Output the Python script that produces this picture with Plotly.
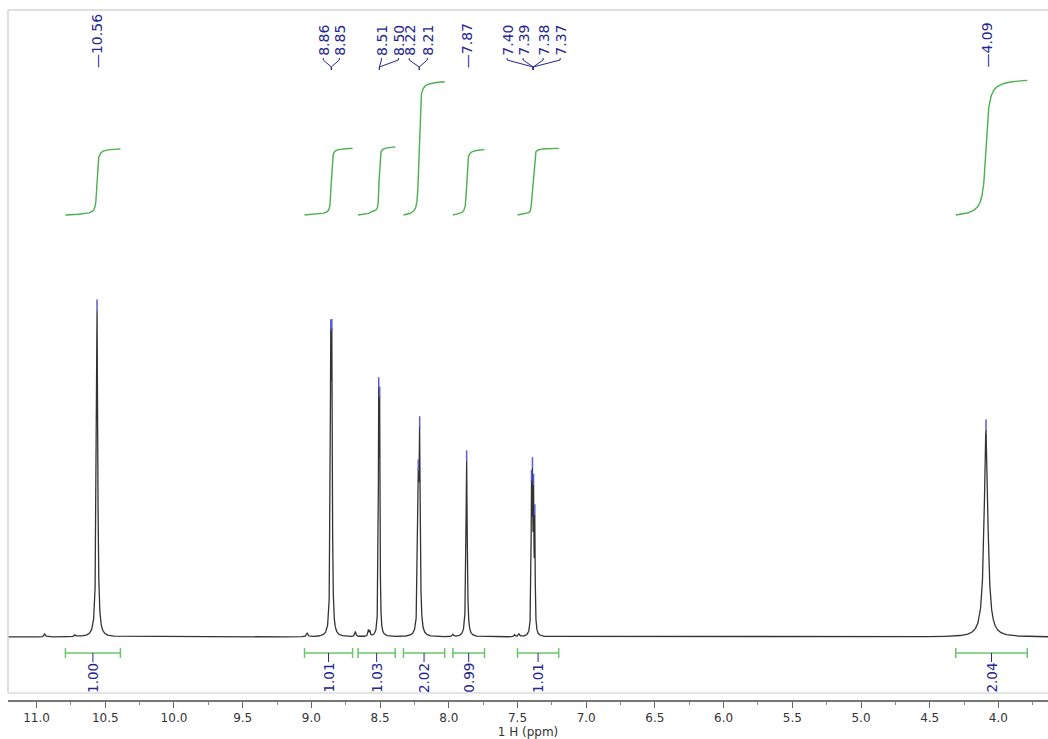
import numpy as np
import plotly.graph_objects as go

# ---------------- data ----------------
# individual resonance lines (ppm), intensities (a.u.), half widths (ppm)
line_ppm = [10.560, 8.859, 8.851, 8.510, 8.503, 8.222, 8.212, 7.870,
            7.398, 7.391, 7.383, 7.374, 4.090]
line_height = [327, 256, 256, 217, 206, 130, 184, 176,
               130, 131, 121, 104, 207]
line_hwhm = [0.006, 0.004, 0.004, 0.003, 0.003, 0.005, 0.005, 0.005,
             0.003, 0.003, 0.003, 0.003, 0.016]

# small impurity / satellite bumps
minor_ppm = [10.94, 10.72, 9.03, 8.68, 8.585, 8.575, 7.97, 7.52, 7.49]
minor_height = [3, 2, 4, 5, 6, 5, 2, 2, 3]
minor_hwhm = [0.006, 0.006, 0.006, 0.005, 0.004, 0.004, 0.005, 0.005, 0.005]

# integration regions (ppm) and integral values
integ_from = [10.79, 9.05, 8.66, 8.33, 7.97, 7.50, 4.31]
integ_to = [10.39, 8.70, 8.39, 8.03, 7.74, 7.20, 3.79]
integ_value = [1.00, 1.01, 1.03, 2.02, 0.99, 1.01, 2.04]

# peak pick label groups
label_groups = [["10.56"], ["8.86", "8.85"], ["8.51", "8.50"], ["8.22", "8.21"],
                ["7.87"], ["7.40", "7.39", "7.38", "7.37"], ["4.09"]]
label_centers = [10.56, 8.855, 8.505, 8.215, 7.87, 7.386, 4.09]

x_tick_values = [11.0, 10.5, 10.0, 9.5, 9.0, 8.5, 8.0, 7.5, 7.0, 6.5, 6.0, 5.5, 5.0, 4.5, 4.0]
x_title = "1 H (ppm)"

# ---------------- layout constants ----------------
X_LEFT, X_RIGHT = 11.208, 3.639
PX_PER_PPM = 1040 / (X_LEFT - X_RIGHT)
Y_MIN, Y_MAX = -63, 627
label_offsets_px = [[0], [-8, 8], [2, 19], [-10, 8], [0], [-26, -10, 10, 27], [0]]

NAVY = "#25258f"
GREEN = "#4caf50"
FONT = "DejaVu Sans"

# ---------------- spectrum ----------------
x = np.linspace(X_RIGHT, X_LEFT, 24000)


def lor(xx, x0, h, g):
    return h * g * g / ((xx - x0) ** 2 + g * g)


def spectrum(xx):
    y = np.zeros_like(xx, dtype=float)
    for p, h, g in zip(line_ppm + minor_ppm, line_height + minor_height, line_hwhm + minor_hwhm):
        y += lor(xx, p, h, g)
    return y


y = spectrum(x)

fig = go.Figure()

# spectrum trace
fig.add_trace(go.Scatter(x=x, y=y, mode="lines", line=dict(color="#333333", width=1.3),
                         hoverinfo="skip"))

# peak top ticks (blue)
tops = spectrum(np.array(line_ppm))
fig.add_trace(go.Scatter(x=line_ppm, y=tops + 5, mode="markers",
                         marker=dict(symbol="line-ns", size=8,
                                     line=dict(color="#5a5ad6", width=1.5)),
                         hoverinfo="skip"))

# integral curves
UNIT = 66
Y_START = 422
for lo, hi, val in zip(integ_from, integ_to, integ_value):
    xs = np.linspace(lo, hi, 600)  # from high ppm to low ppm
    ys = spectrum(xs)
    cum = np.cumsum(ys)
    cum = (cum - cum[0]) / (cum[-1] - cum[0])
    fig.add_trace(go.Scatter(x=xs, y=Y_START + cum * val * UNIT, mode="lines",
                             line=dict(color=GREEN, width=1.4), hoverinfo="skip"))

# integration bars
BAR_Y = -16
bx, by, cx, cy = [], [], [], []
for lo, hi in zip(integ_from, integ_to):
    bx += [lo, hi, None]
    by += [BAR_Y, BAR_Y, None]
    c = (lo + hi) / 2
    cx += [c, c, None]
    cy += [BAR_Y, BAR_Y - 9, None]
fig.add_trace(go.Scatter(x=bx, y=by, mode="lines", line=dict(color="#6cc46c", width=1.5),
                         hoverinfo="skip"))
fig.add_trace(go.Scatter(x=integ_from + integ_to, y=[BAR_Y] * (2 * len(integ_from)),
                         mode="markers",
                         marker=dict(symbol="line-ns", size=7, line=dict(color="#6cc46c", width=1.5)),
                         hoverinfo="skip"))
fig.add_trace(go.Scatter(x=cx, y=cy, mode="lines", line=dict(color=NAVY, width=1),
                         hoverinfo="skip"))

annotations = []
for lo, hi, val in zip(integ_from, integ_to, integ_value):
    annotations.append(dict(x=(lo + hi) / 2, y=BAR_Y - 8, xref="x", yref="y",
                            text=f"{val:.2f}", textangle=-90, showarrow=False,
                            xanchor="center", yanchor="top",
                            font=dict(family=FONT, size=13.5, color=NAVY)))

# peak labels
LAB_BOTTOM_SINGLE = 567
LAB_BOTTOM_MULTI = 579
lx, ly = [], []
for labels, center, offs in zip(label_groups, label_centers, label_offsets_px):
    if len(labels) == 1:
        annotations.append(dict(x=center, y=LAB_BOTTOM_SINGLE, xref="x", yref="y",
                                text="\u2014" + labels[0], textangle=-90, showarrow=False,
                                xanchor="center", yanchor="bottom",
                                font=dict(family=FONT, size=14, color=NAVY)))
    else:
        for lab, o in zip(labels, offs):
            xp = center - o / PX_PER_PPM
            annotations.append(dict(x=xp, y=LAB_BOTTOM_MULTI, xref="x", yref="y",
                                    text=lab, textangle=-90, showarrow=False,
                                    xanchor="center", yanchor="bottom",
                                    font=dict(family=FONT, size=14, color=NAVY)))
            lx += [xp, xp, center, center, None]
            ly += [LAB_BOTTOM_MULTI, LAB_BOTTOM_MULTI - 2, LAB_BOTTOM_MULTI - 9,
                   LAB_BOTTOM_MULTI - 12, None]
fig.add_trace(go.Scatter(x=lx, y=ly, mode="lines", line=dict(color=NAVY, width=1),
                         hoverinfo="skip"))

# frame
shapes = [
    dict(type="line", xref="paper", yref="paper", x0=0, x1=0, y0=7 / 690, y1=1,
         line=dict(color="#d4d4d4", width=1.5)),
    dict(type="line", xref="paper", yref="paper", x0=0, x1=1, y0=1, y1=1,
         line=dict(color="#d4d4d4", width=1.5)),
    dict(type="line", xref="paper", yref="paper", x0=0, x1=1, y0=7 / 690, y1=7 / 690,
         line=dict(color="#dcdcdc", width=1.5)),
]

fig.update_layout(
    width=1048, height=739,
    margin=dict(l=8, r=0, t=10, b=39),
    paper_bgcolor="white", plot_bgcolor="white",
    showlegend=False,
    annotations=annotations,
    shapes=shapes,
    xaxis=dict(range=[X_LEFT, X_RIGHT], tickmode="array", tickvals=x_tick_values,
               ticktext=[f"{v:.1f}" for v in x_tick_values],
               ticks="outside", ticklen=6, tickwidth=1, tickcolor="#666",
               minor=dict(dtick=0.25, tick0=0, ticks="outside", ticklen=3, tickcolor="#888"),
               showline=True, linecolor="#777", linewidth=2, showgrid=False, zeroline=False,
               tickfont=dict(family=FONT, size=12, color="#333"),
               title=dict(text=x_title, standoff=0, font=dict(family=FONT, size=12, color="#333"))),
    yaxis=dict(range=[Y_MIN, Y_MAX], visible=False, showgrid=False, zeroline=False),
)

fig.write_html("out.html")
